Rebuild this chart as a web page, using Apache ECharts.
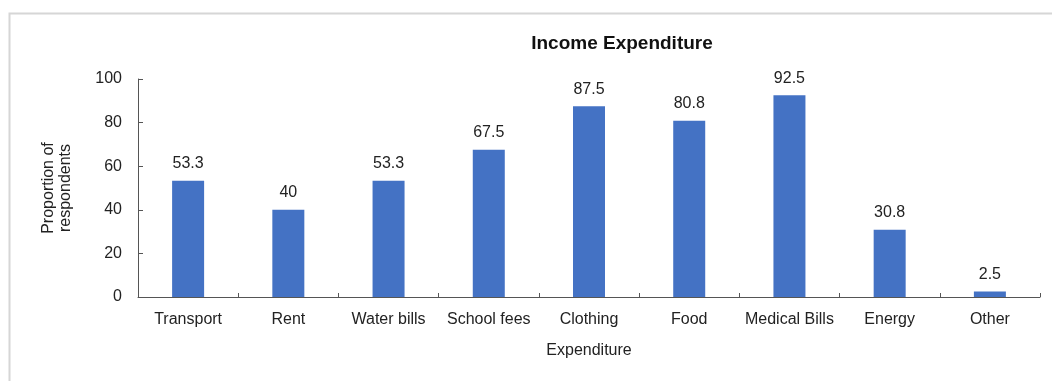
<!DOCTYPE html>
<html>
<head>
<meta charset="utf-8">
<script src="https://cdn.jsdelivr.net/npm/echarts@6/dist/echarts.min.js"></script>
<style>
html,body{margin:0;padding:0;background:#fff;}
#chart{width:1052px;height:381px;}
</style>
</head>
<body>
<div id="chart"></div>
<script>
const categories = ['Transport','Rent','Water bills','School fees','Clothing','Food','Medical Bills','Energy','Other'];
const values = [53.3, 40, 53.3, 67.5, 87.5, 80.8, 92.5, 30.8, 2.5];
const yTicks = [0, 20, 40, 60, 80, 100];
const titleText = 'Income Expenditure';
const xName = 'Expenditure';
const yName = 'Proportion of\nrespondents';

const font = '"Liberation Sans", Arial, sans-serif';
const chart = echarts.init(document.getElementById('chart'));
chart.setOption({
  animation: false,
  backgroundColor: '#fff',
  graphic: [{
    type: 'rect', left: 7, top: 11, shape: {width: 1100, height: 420},
    style: {fill: 'none', stroke: '#d6d6d6', lineWidth: 2}, silent: true
  }],
  title: {
    text: titleText, left: 617, top: 29, textAlign: 'center',
    textStyle: {fontFamily: font, fontSize: 19, fontWeight: 'bold', color: '#111'}
  },
  grid: {left: 138, right: 12, top: 79, bottom: 84, containLabel: false},
  xAxis: {
    type: 'category', data: categories,
    name: xName, nameLocation: 'middle', nameGap: 46,
    nameTextStyle: {fontFamily: font, fontSize: 16, color: '#222'},
    axisLine: {lineStyle: {color: '#555', width: 1}},
    axisTick: {show: true, inside: true, length: 4, alignWithLabel: false, lineStyle: {color: '#555'}},
    axisLabel: {fontFamily: font, fontSize: 16, color: '#222', margin: 15, interval: 0}
  },
  yAxis: {
    type: 'value', min: yTicks[0], max: yTicks[yTicks.length - 1], interval: 20,
    name: yName, nameLocation: 'middle', nameGap: 64,
    nameTextStyle: {fontFamily: font, fontSize: 16, color: '#222', lineHeight: 17},
    axisLine: {show: true, lineStyle: {color: '#555', width: 1}},
    axisTick: {show: true, inside: true, length: 5, lineStyle: {color: '#555'}},
    splitLine: {show: false},
    axisLabel: {fontFamily: font, fontSize: 16, color: '#222', margin: 16}
  },
  series: [{
    type: 'bar', data: values, barWidth: 32,
    itemStyle: {color: '#4472C4'},
    label: {show: true, position: 'top', distance: 9, fontFamily: font, fontSize: 16, color: '#222'}
  }]
});
</script>
</body>
</html>
